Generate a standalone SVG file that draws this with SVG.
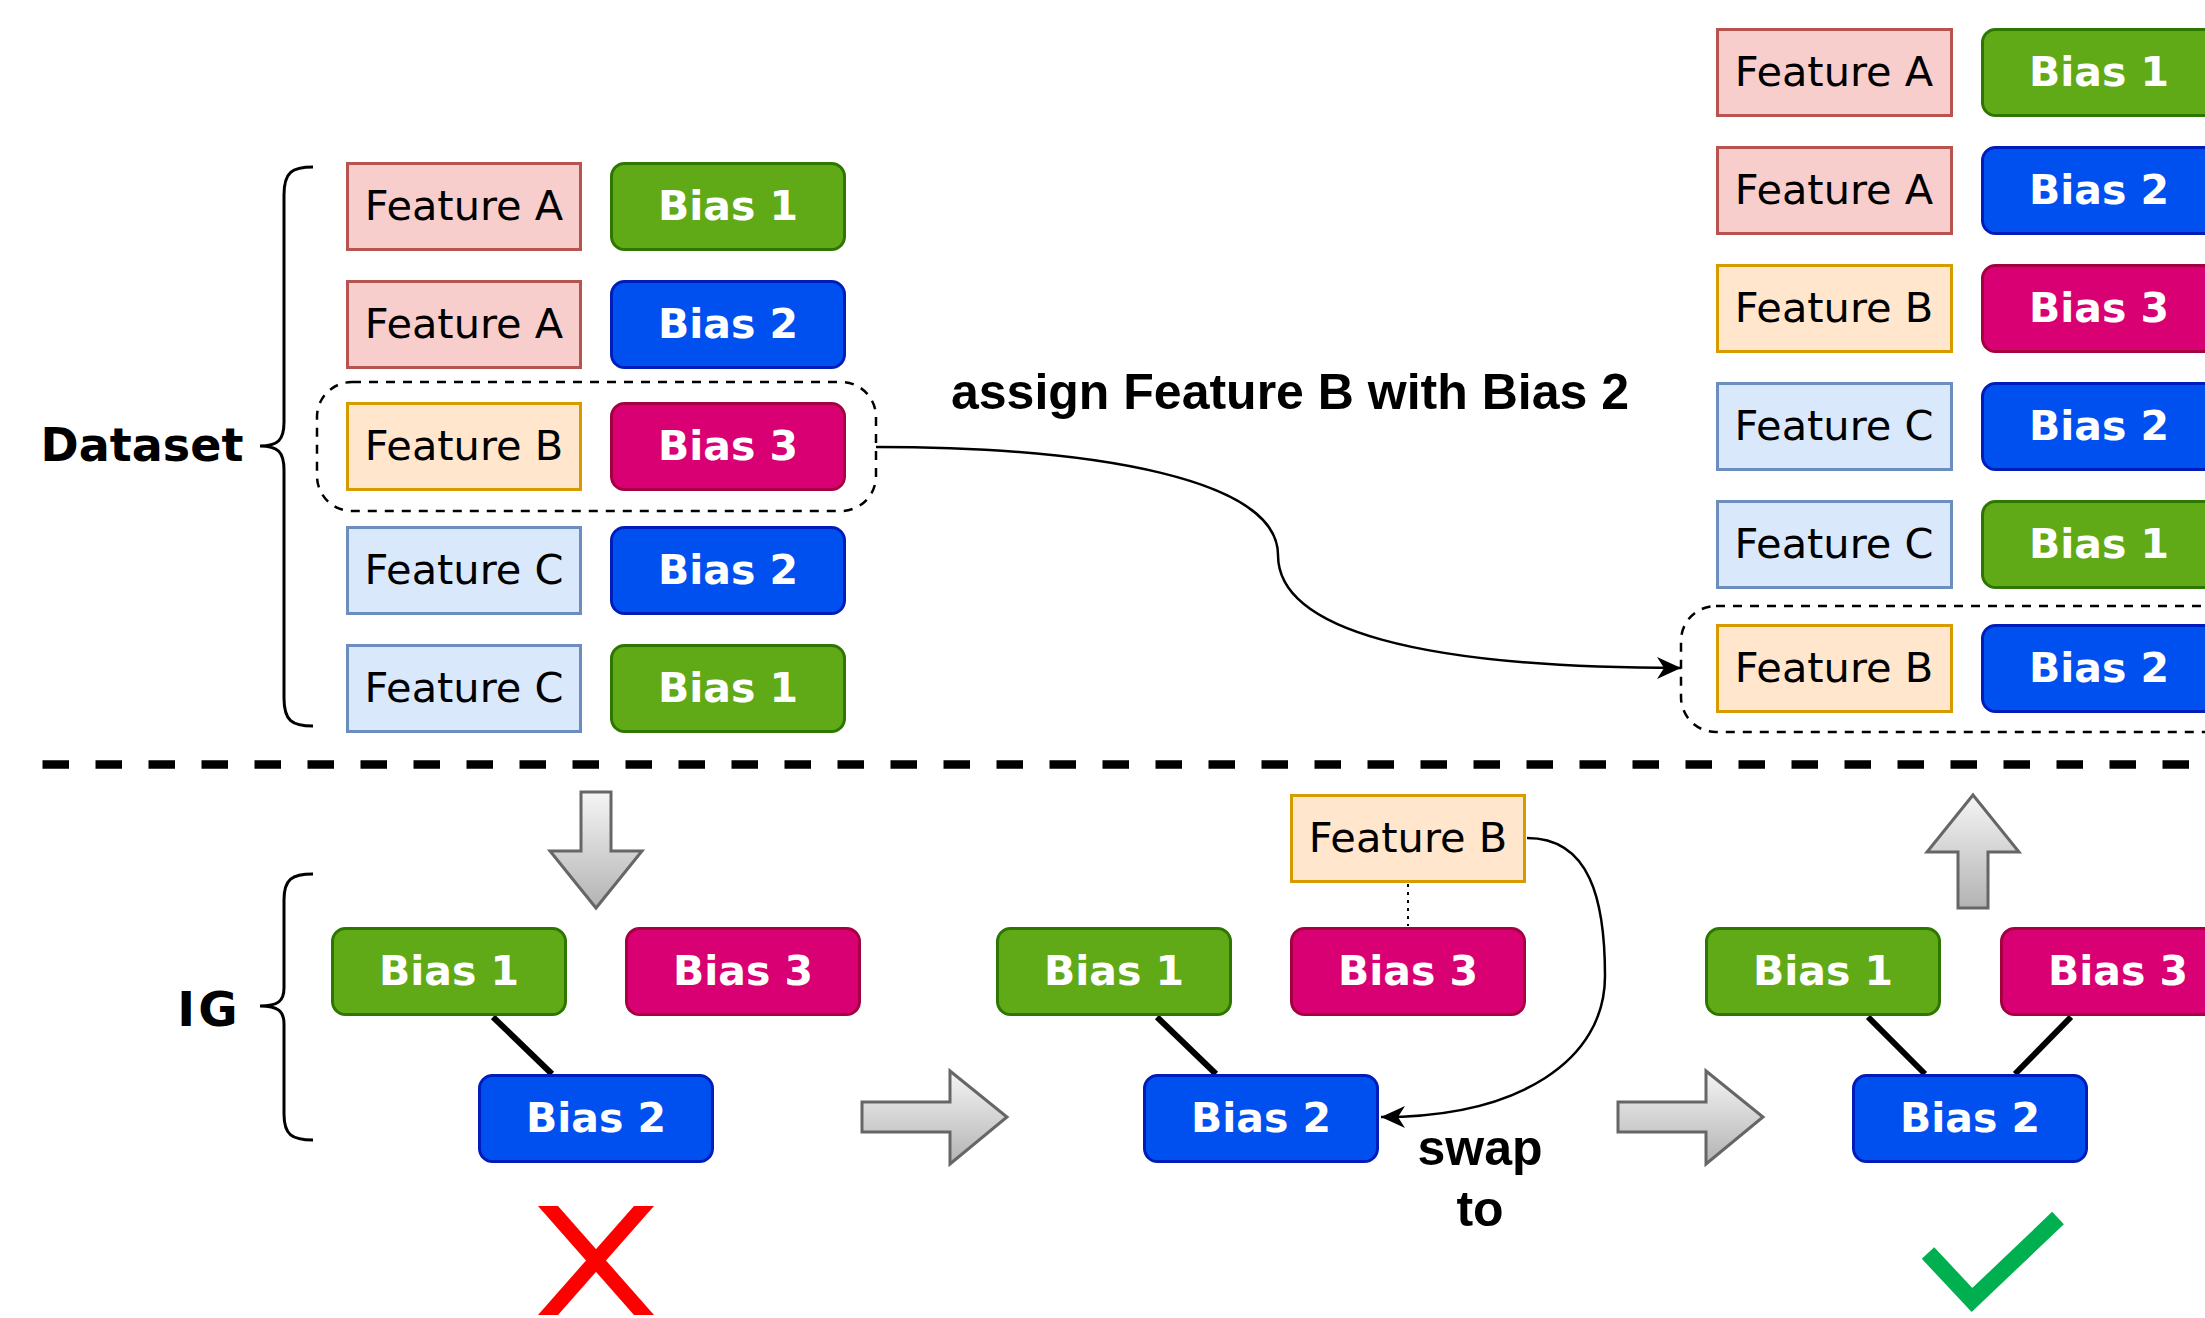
<svg xmlns="http://www.w3.org/2000/svg" width="2205" height="1318" viewBox="0 0 2205 1318">
<defs>
<style>
.box{stroke-width:3}
.fa{fill:#f8cecc;stroke:#b85450}
.fb{fill:#ffe6cc;stroke:#d79b00}
.fc{fill:#dae8fc;stroke:#6c8ebf}
.b1{fill:#60a917;stroke:#2d7600}
.b2{fill:#0050ef;stroke:#001dbc}
.b3{fill:#d80073;stroke:#a50040}
.ft{font-family:"DejaVu Sans",Verdana,sans-serif;font-size:41.5px;fill:#000;text-anchor:middle}
.bt{font-family:"DejaVu Sans",Verdana,sans-serif;font-size:41px;font-weight:bold;fill:#fff;text-anchor:middle}
.lbl{font-family:"DejaVu Sans",Verdana,sans-serif;font-weight:bold;fill:#000;text-anchor:middle}
.al{font-family:"Liberation Sans",Arial,sans-serif;font-weight:bold;font-size:50px;fill:#000}
.brace{fill:none;stroke:#000;stroke-width:3}
.grp{fill:none;stroke:#000;stroke-width:2.5;stroke-dasharray:9 8}
.blk{fill:url(#gg);stroke:#666;stroke-width:3}
.edge{stroke:#000;stroke-width:6;fill:none}
.curve{fill:none;stroke:#000;stroke-width:2.5}
</style>
<linearGradient id="gg" x1="0" y1="0" x2="0" y2="1">
<stop offset="0" stop-color="#f5f5f5"/>
<stop offset="1" stop-color="#b3b3b3"/>
</linearGradient>
<marker id="arr" markerUnits="userSpaceOnUse" markerWidth="26" markerHeight="26" refX="24" refY="12" orient="auto" viewBox="0 0 26 26">
<path d="M0,1 L24,12 L0,23 L7,12 Z" fill="#000"/>
</marker>
</defs>
<rect width="2205" height="1318" fill="#fff"/>

<!-- Dataset label and brace -->
<g id="dataset-label">
<text class="lbl" x="142" y="461" font-size="46">Dataset</text>
<path class="brace" d="M313,167 C292,167 284,172 284,195 L284,422 C284,440 278,446 260,446 C278,446 284,452 284,470 L284,698 C284,721 292,726 313,726"/>
</g>

<!-- Left dataset rows -->
<g id="row1-feature"><rect class="box fa" x="347.5" y="163.5" width="233" height="86"/><text class="ft" x="464" y="220">Feature A</text></g>
<g id="row1-bias"><rect class="box b1" x="611.5" y="163.5" width="233" height="86" rx="13"/><text class="bt" x="728" y="220">Bias 1</text></g>
<g id="row2-feature"><rect class="box fa" x="347.5" y="281.5" width="233" height="86"/><text class="ft" x="464" y="338">Feature A</text></g>
<g id="row2-bias"><rect class="box b2" x="611.5" y="281.5" width="233" height="86" rx="13"/><text class="bt" x="728" y="338">Bias 2</text></g>
<g id="row3-feature"><rect class="box fb" x="347.5" y="403.5" width="233" height="86"/><text class="ft" x="464" y="460">Feature B</text></g>
<g id="row3-bias"><rect class="box b3" x="611.5" y="403.5" width="233" height="86" rx="13"/><text class="bt" x="728" y="460">Bias 3</text></g>
<g id="row4-feature"><rect class="box fc" x="347.5" y="527.5" width="233" height="86"/><text class="ft" x="464" y="584">Feature C</text></g>
<g id="row4-bias"><rect class="box b2" x="611.5" y="527.5" width="233" height="86" rx="13"/><text class="bt" x="728" y="584">Bias 2</text></g>
<g id="row5-feature"><rect class="box fc" x="347.5" y="645.5" width="233" height="86"/><text class="ft" x="464" y="702">Feature C</text></g>
<g id="row5-bias"><rect class="box b1" x="611.5" y="645.5" width="233" height="86" rx="13"/><text class="bt" x="728" y="702">Bias 1</text></g>
<g id="left-selection"><rect class="grp" x="317" y="382" width="559" height="129" rx="35"/></g>

<!-- Right dataset rows -->
<g id="r-row1-feature"><rect class="box fa" x="1717.5" y="29.5" width="234" height="86"/><text class="ft" x="1834" y="86">Feature A</text></g>
<g id="r-row1-bias"><rect class="box b1" x="1982.5" y="29.5" width="234" height="86" rx="13"/><text class="bt" x="2099" y="86">Bias 1</text></g>
<g id="r-row2-feature"><rect class="box fa" x="1717.5" y="147.5" width="234" height="86"/><text class="ft" x="1834" y="204">Feature A</text></g>
<g id="r-row2-bias"><rect class="box b2" x="1982.5" y="147.5" width="234" height="86" rx="13"/><text class="bt" x="2099" y="204">Bias 2</text></g>
<g id="r-row3-feature"><rect class="box fb" x="1717.5" y="265.5" width="234" height="86"/><text class="ft" x="1834" y="322">Feature B</text></g>
<g id="r-row3-bias"><rect class="box b3" x="1982.5" y="265.5" width="234" height="86" rx="13"/><text class="bt" x="2099" y="322">Bias 3</text></g>
<g id="r-row4-feature"><rect class="box fc" x="1717.5" y="383.5" width="234" height="86"/><text class="ft" x="1834" y="440">Feature C</text></g>
<g id="r-row4-bias"><rect class="box b2" x="1982.5" y="383.5" width="234" height="86" rx="13"/><text class="bt" x="2099" y="440">Bias 2</text></g>
<g id="r-row5-feature"><rect class="box fc" x="1717.5" y="501.5" width="234" height="86"/><text class="ft" x="1834" y="558">Feature C</text></g>
<g id="r-row5-bias"><rect class="box b1" x="1982.5" y="501.5" width="234" height="86" rx="13"/><text class="bt" x="2099" y="558">Bias 1</text></g>
<g id="r-row6-feature"><rect class="box fb" x="1717.5" y="625.5" width="234" height="86"/><text class="ft" x="1834" y="682">Feature B</text></g>
<g id="r-row6-bias"><rect class="box b2" x="1982.5" y="625.5" width="234" height="86" rx="13"/><text class="bt" x="2099" y="682">Bias 2</text></g>
<g id="right-selection"><rect class="grp" x="1681" y="606" width="600" height="126" rx="35"/></g>

<g id="assign-label"><text class="al" x="951" y="409">assign Feature B with Bias 2</text></g>

<!-- separator -->
<g id="separator"><line x1="42.5" y1="764.5" x2="2205" y2="764.5" stroke="#000" stroke-width="8.5" stroke-dasharray="26.5 26.5"/></g>

<!-- IG label and brace -->
<g id="ig-label">
<text class="lbl" x="209" y="1026" font-size="48" letter-spacing="3">IG</text>
<path class="brace" d="M313,874 C292,874 284,879 284,900 L284,988 C284,1001 278,1006 260,1006 C278,1006 284,1011 284,1024 L284,1114 C284,1135 292,1140 313,1140"/>
</g>

<!-- block arrows -->
<g id="arrow-down"><polygon class="blk" points="581,792 611,792 611,851 642,851 596,908 550,851 581,851"/></g>
<g id="arrow-right-1"><polygon class="blk" points="862,1102 950,1102 950,1071 1007,1117 950,1164 950,1132 862,1132"/></g>
<g id="arrow-right-2"><polygon class="blk" points="1618,1102 1706,1102 1706,1071 1763,1117 1706,1164 1706,1132 1618,1132"/></g>
<g id="arrow-up"><polygon class="blk" points="1973,795 2019,852 1988,852 1988,908 1958,908 1958,852 1927,852"/></g>

<!-- connectors -->
<g id="connectors">
<path class="curve" d="M876,447 C1100,447 1278,480 1278,555 C1278,630 1420,668 1681,668" marker-end="url(#arr)"/>
<path class="curve" d="M1527,838 C1590,838 1605,900 1605,976 C1605,1060 1520,1117 1381,1117" marker-end="url(#arr)"/>
<line x1="1408" y1="884" x2="1408" y2="926" stroke="#000" stroke-width="2" stroke-dasharray="3 5"/>
<line class="edge" x1="493" y1="1017" x2="552" y2="1074"/>
<line class="edge" x1="1157" y1="1017" x2="1216" y2="1074"/>
<line class="edge" x1="1868" y1="1017" x2="1925" y2="1074"/>
<line class="edge" x1="2071" y1="1017" x2="2015" y2="1074"/>
</g>

<!-- IG state 1 -->
<g id="ig1-bias1"><rect class="box b1" x="332.5" y="928.5" width="233" height="86" rx="13"/><text class="bt" x="449" y="985">Bias 1</text></g>
<g id="ig1-bias3"><rect class="box b3" x="626.5" y="928.5" width="233" height="86" rx="13"/><text class="bt" x="743" y="985">Bias 3</text></g>
<g id="ig1-bias2"><rect class="box b2" x="479.5" y="1075.5" width="233" height="86" rx="13"/><text class="bt" x="596" y="1132">Bias 2</text></g>

<!-- IG state 2 -->
<g id="ig2-bias1"><rect class="box b1" x="997.5" y="928.5" width="233" height="86" rx="13"/><text class="bt" x="1114" y="985">Bias 1</text></g>
<g id="ig2-featureB"><rect class="box fb" x="1291.5" y="795.5" width="233" height="86"/><text class="ft" x="1408" y="852">Feature B</text></g>
<g id="ig2-bias3"><rect class="box b3" x="1291.5" y="928.5" width="233" height="86" rx="13"/><text class="bt" x="1408" y="985">Bias 3</text></g>
<g id="ig2-bias2"><rect class="box b2" x="1144.5" y="1075.5" width="233" height="86" rx="13"/><text class="bt" x="1261" y="1132">Bias 2</text></g>
<g id="swap-label"><text class="al" x="1480" y="1165" text-anchor="middle">swap</text><text class="al" x="1480" y="1226" text-anchor="middle">to</text></g>

<!-- IG state 3 -->
<g id="ig3-bias1"><rect class="box b1" x="1706.5" y="928.5" width="233" height="86" rx="13"/><text class="bt" x="1823" y="985">Bias 1</text></g>
<g id="ig3-bias3"><rect class="box b3" x="2001.5" y="928.5" width="233" height="86" rx="13"/><text class="bt" x="2118" y="985">Bias 3</text></g>
<g id="ig3-bias2"><rect class="box b2" x="1853.5" y="1075.5" width="233" height="86" rx="13"/><text class="bt" x="1970" y="1132">Bias 2</text></g>

<!-- marks -->
<g id="red-x">
<polygon points="538,1206 558,1206 654,1315 634,1315" fill="#ff0000"/>
<polygon points="634,1206 654,1206 558,1315 538,1315" fill="#ff0000"/>
</g>
<g id="green-check">
<polyline points="1928,1253 1972,1300 2058,1218" fill="none" stroke="#00b050" stroke-width="17" stroke-linejoin="miter"/>
</g>
</svg>
